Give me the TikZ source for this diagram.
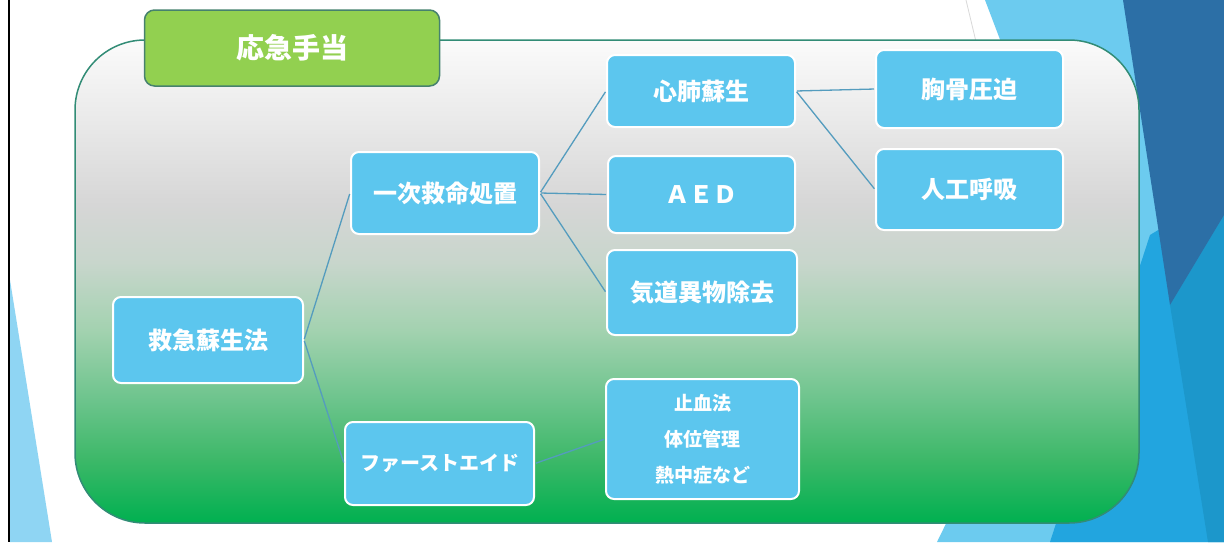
\documentclass[tikz,border=0pt]{standalone}
\usepackage{fontspec}
\newfontfamily\jp{Noto Sans CJK JP}
\definecolor{boxblue}{RGB}{92,198,238}
\definecolor{linkblue}{RGB}{84,156,190}
\definecolor{panelline}{RGB}{50,140,118}
\definecolor{titlegreen}{RGB}{146,208,80}
\definecolor{titleline}{RGB}{70,130,110}
\definecolor{decolight}{RGB}{108,203,239}
\definecolor{decomid}{RGB}{34,165,223}
\definecolor{decomid2}{RGB}{28,151,203}
\definecolor{decodark}{RGB}{44,111,166}
\definecolor{decoleft}{RGB}{143,213,243}
\definecolor{pa}{RGB}{0,176,80}
\definecolor{pb}{RGB}{60,184,104}
\definecolor{pc}{RGB}{108,196,140}
\definecolor{pd}{RGB}{163,210,176}
\definecolor{pe}{RGB}{200,214,204}
\definecolor{pf}{RGB}{214,214,214}
\definecolor{pg}{RGB}{232,232,232}
\definecolor{ph}{RGB}{251,251,251}
\pgfdeclareverticalshading{panelshade}{100bp}{color(0bp)=(pa); color(25bp)=(pa); color(31.5bp)=(pb); color(37.7bp)=(pc); color(45bp)=(pd); color(52bp)=(pe); color(58bp)=(pf); color(66bp)=(pg); color(75bp)=(ph); color(100bp)=(ph)}
\tikzset{
  item/.style={draw=white, line width=2pt, fill=boxblue, rounded corners=8pt, text=white,
    font=\jp\bfseries\fontsize{24}{28}\selectfont, inner sep=0pt, align=center},
  link/.style={draw=linkblue, line width=1.3pt, shorten <=1pt, shorten >=1pt},
  titlebox/.style={draw=titleline, line width=1.5pt, fill=titlegreen, rounded corners=10pt,
    text=white, font=\jp\bfseries\fontsize{28}{32}\selectfont, inner sep=0pt},
}
\begin{document}
\begin{tikzpicture}[x=1pt,y=-1pt]
\useasboundingbox (0,0) rectangle (1224,542);
\fill[white] (0,0) rectangle (1224,542);
% decorations
\fill[decoleft] (10,280) -- (52,542) -- (10,542) -- cycle;
\fill[decolight] (985,0) -- (1224,0) -- (1224,542) -- (937,542) -- (1080,250) -- cycle;
\fill[decomid] (1050,542) -- (1150,235) -- (1224,190) -- (1224,542) -- cycle;
\fill[decomid2] (1170,305) -- (1208,542) -- (1224,542) -- (1224,215) -- cycle;
\fill[decodark] (1123,0) -- (1224,0) -- (1224,215) -- (1170,305) -- cycle;
\draw[black!15, line width=0.8pt] (966,0) -- (990,100);
\draw[black, line width=2pt] (9,0) -- (9,542);
% panel
\shade[shading=panelshade, draw=panelline, line width=1.5pt, rounded corners=70pt]
  (75,40) rectangle (1139,523);
% title
\node[titlebox, minimum width=295pt, minimum height=76pt] (ttl) at (292,48) {応急手当};
% nodes
\node[item, minimum width=190pt, minimum height=86pt] (kyu) at (208,340) {救急蘇生法};
\node[item, minimum width=188pt, minimum height=82pt] (ichi) at (445,193) {一次救命処置};
\node[item, minimum width=189pt, minimum height=83pt, font=\jp\bfseries\fontsize{20}{24}\selectfont] (first) at (439.5,463.5) {ファーストエイド};
\node[item, minimum width=188pt, minimum height=72pt] (shin) at (701,91) {心肺蘇生};
\node[item, minimum width=187pt, minimum height=77pt] (aed) at (701.5,194.5) {ＡＥＤ};
\node[item, minimum width=190pt, minimum height=85pt] (kido) at (702,292.5) {気道異物除去};
\node[item, minimum width=193pt, minimum height=120pt, font=\jp\bfseries\fontsize{19}{36}\selectfont] (list) at (702.5,439) {止血法\\体位管理\\熱中症など};
\node[item, minimum width=187pt, minimum height=78pt] (kyo) at (969.5,89) {胸骨圧迫};
\node[item, minimum width=187pt, minimum height=81pt] (jin) at (969.5,189.5) {人工呼吸};
% connectors
\draw[link] (kyu.east) -- (ichi.west);
\draw[link] (kyu.east) -- (first.west);
\draw[link] (ichi.east) -- (shin.west);
\draw[link] (ichi.east) -- (aed.west);
\draw[link] (ichi.east) -- (kido.west);
\draw[link] (shin.east) -- (kyo.west);
\draw[link] (shin.east) -- (jin.west);
\draw[link] (first.east) -- (list.west);
\end{tikzpicture}
\end{document}
